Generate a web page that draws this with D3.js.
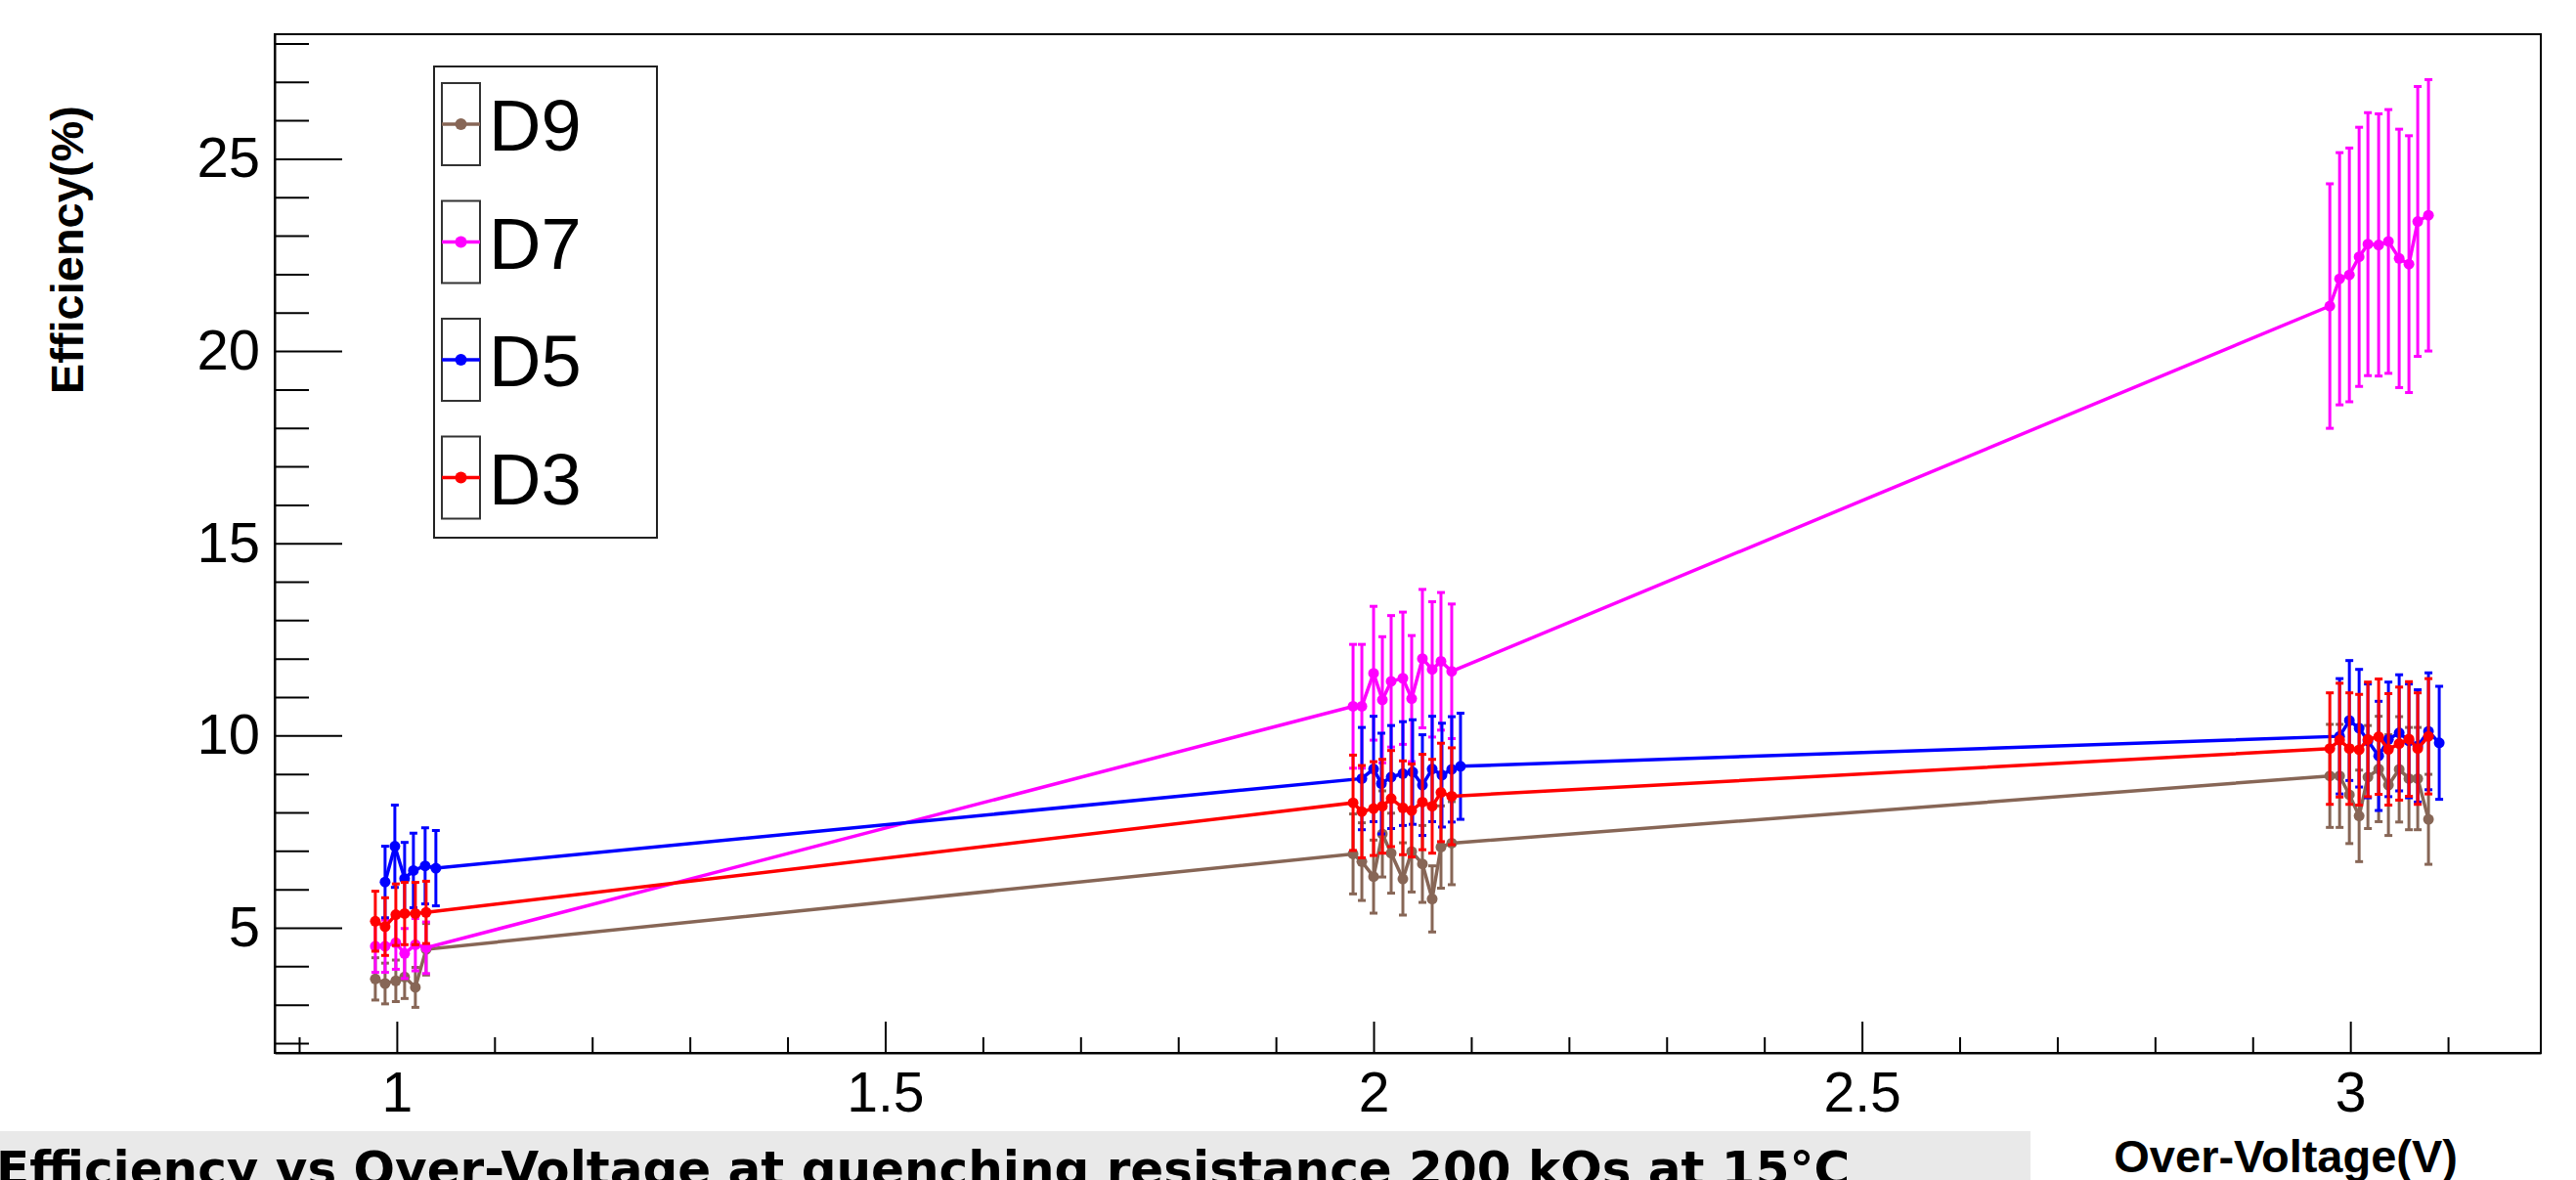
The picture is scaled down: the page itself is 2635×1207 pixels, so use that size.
<!DOCTYPE html>
<html>
<head>
<meta charset="utf-8">
<script src="https://cdn.jsdelivr.net/npm/d3@7"></script>
<style>
  body { margin: 0; background: #ffffff; }
  svg { display: block; }
</style>
</head>
<body>
<div id="chart"></div>
<script>
// Over-voltage (V) of each measurement; D3, D7 and D9 share one set, D5 is shifted one step
const voltsShared = [0.978, 0.988, 0.999, 1.008, 1.019, 1.030,
  1.979, 1.988, 2.000, 2.009, 2.018, 2.030, 2.039, 2.050, 2.060, 2.069, 2.080,
  2.979, 2.989, 2.999, 3.009, 3.018, 3.029, 3.039, 3.050, 3.060, 3.069, 3.080];
const voltsD5 = [0.988, 0.998, 1.008, 1.017, 1.029, 1.040,
  1.988, 2.000, 2.008, 2.018, 2.030, 2.040, 2.050, 2.060, 2.070, 2.080, 2.089,
  2.989, 2.999, 3.009, 3.018, 3.029, 3.039, 3.050, 3.060, 3.069, 3.080, 3.091];

// efficiency (%) and its error
const effD9 = [3.67, 3.55, 3.62, 3.72, 3.45, 4.44,
  6.92, 6.72, 6.33, 7.44, 6.94, 6.27, 6.98, 6.66, 5.75, 7.10, 7.20,
  8.95, 8.95, 8.46, 7.91, 8.92, 9.13, 8.71, 9.12, 8.88, 8.88, 7.82];
const errD9 = [0.55, 0.53, 0.54, 0.56, 0.52, 0.67,
  1.04, 1.01, 0.95, 1.12, 1.04, 0.94, 1.05, 1.00, 0.86, 1.07, 1.08,
  1.34, 1.34, 1.27, 1.19, 1.34, 1.37, 1.31, 1.37, 1.33, 1.33, 1.17];

const effD7 = [4.52, 4.52, 4.61, 4.33, 4.56, 4.48,
  10.76, 10.76, 11.62, 10.93, 11.41, 11.49, 10.96, 12.00, 11.72, 11.93, 11.67,
  21.17, 21.88, 21.98, 22.45, 22.78, 22.76, 22.85, 22.41, 22.26, 23.37, 23.53];
const errD7 = [0.68, 0.68, 0.69, 0.65, 0.68, 0.67,
  1.61, 1.61, 1.74, 1.64, 1.71, 1.72, 1.64, 1.80, 1.76, 1.79, 1.75,
  3.18, 3.28, 3.30, 3.37, 3.42, 3.41, 3.43, 3.36, 3.34, 3.51, 3.53];

const effD5 = [6.19, 7.12, 6.28, 6.49, 6.61, 6.55,
  8.88, 9.13, 8.75, 8.92, 9.01, 9.05, 8.71, 9.13, 8.97, 9.12, 9.20,
  9.98, 10.39, 10.19, 9.86, 9.47, 9.90, 10.07, 9.86, 9.73, 10.11, 9.81];
const errD5 = [0.93, 1.07, 0.94, 0.97, 0.99, 0.98,
  1.33, 1.37, 1.31, 1.34, 1.35, 1.36, 1.31, 1.37, 1.35, 1.37, 1.38,
  1.50, 1.56, 1.53, 1.48, 1.42, 1.49, 1.51, 1.48, 1.46, 1.52, 1.47];

const effD3 = [5.17, 5.03, 5.34, 5.37, 5.37, 5.40,
  8.25, 8.02, 8.10, 8.16, 8.36, 8.12, 8.05, 8.27, 8.16, 8.52, 8.42,
  9.66, 9.88, 9.66, 9.63, 9.90, 9.97, 9.64, 9.79, 9.91, 9.66, 9.98];
const errD3 = [0.78, 0.75, 0.80, 0.81, 0.81, 0.81,
  1.24, 1.20, 1.22, 1.22, 1.25, 1.22, 1.21, 1.24, 1.22, 1.28, 1.26,
  1.45, 1.48, 1.45, 1.44, 1.49, 1.50, 1.45, 1.47, 1.49, 1.45, 1.50];

const seriesNames = ["D9", "D7", "D5", "D3"];
const seriesColors = ["#876656", "#ff00ff", "#0000ff", "#ff0000"];

const xMajor = [1, 1.5, 2, 2.5, 3];
const xMinor = [0.9, 1.1, 1.2, 1.3, 1.4, 1.6, 1.7, 1.8, 1.9, 2.1, 2.2, 2.3, 2.4, 2.6, 2.7, 2.8, 2.9, 3.1];
const yMajor = [5, 10, 15, 20, 25];
const yMinor = [2, 3, 4, 6, 7, 8, 9, 11, 12, 13, 14, 16, 17, 18, 19, 21, 22, 23, 24, 26, 27, 28];

const titleText = "Efficiency vs Over-Voltage at quenching resistance 200 kΩs at 15°C";

const width = 2635;
const height = 1207;
const plotLeft = 281, plotRight = 2599, plotTop = 35, plotBottom = 1077;

const svg = d3.select("#chart")
  .append("svg")
  .attr("width", width)
  .attr("height", height);

svg.append("rect").attr("width", width).attr("height", height).attr("fill", "#ffffff");

const x = d3.scaleLinear().domain([0.875, 3.195]).range([plotLeft, plotRight]);
const y = d3.scaleLinear().domain([1.745, 28.24]).range([plotBottom, plotTop]);

const tickFont = "'Liberation Sans', Arial, Helvetica, sans-serif";

// axes, ticks point inward like in ROOT
const yAxis = svg.append("g")
  .attr("transform", `translate(${plotLeft},0)`)
  .call(d3.axisLeft(y).tickValues(yMajor).tickSize(-69).tickSizeOuter(0).tickPadding(15)
    .tickFormat(d3.format("d")));
svg.append("g")
  .attr("transform", `translate(${plotLeft},0)`)
  .call(d3.axisLeft(y).tickValues(yMinor).tickSize(-35).tickFormat(""))
  .call(g => g.select(".domain").remove());

const xAxis = svg.append("g")
  .attr("transform", `translate(0,${plotBottom})`)
  .call(d3.axisBottom(x).tickValues(xMajor).tickSize(-32).tickSizeOuter(0).tickPadding(20)
    .tickFormat(d => d3.format("")(d)));
svg.append("g")
  .attr("transform", `translate(0,${plotBottom})`)
  .call(d3.axisBottom(x).tickValues(xMinor).tickSize(-16).tickFormat(""))
  .call(g => g.select(".domain").remove());

svg.selectAll(".tick line").attr("stroke", "#000").attr("stroke-width", 2);
svg.selectAll(".domain").attr("stroke", "#000").attr("stroke-width", 2);
yAxis.selectAll("text").attr("font-family", tickFont).attr("font-size", 58).attr("fill", "#000");
xAxis.selectAll("text").attr("font-family", tickFont).attr("font-size", 57).attr("fill", "#000");

// frame
svg.append("rect")
  .attr("x", plotLeft).attr("y", plotTop)
  .attr("width", plotRight - plotLeft).attr("height", plotBottom - plotTop)
  .attr("fill", "none").attr("stroke", "#000").attr("stroke-width", 2);

// axis titles
svg.append("text")
  .attr("transform", `translate(85,108) rotate(-90)`)
  .attr("text-anchor", "end")
  .attr("font-family", tickFont).attr("font-weight", "bold").attr("font-size", 47)
  .text("Efficiency(%)");

svg.append("text")
  .attr("x", 2514).attr("y", 1199)
  .attr("text-anchor", "end")
  .attr("font-family", tickFont).attr("font-weight", "bold").attr("font-size", 47)
  .text("Over-Voltage(V)");

// graphs
const allSeries = [
  { name: seriesNames[0], color: seriesColors[0], xs: voltsShared, ys: effD9, es: errD9 },
  { name: seriesNames[1], color: seriesColors[1], xs: voltsShared, ys: effD7, es: errD7 },
  { name: seriesNames[2], color: seriesColors[2], xs: voltsD5, ys: effD5, es: errD5 },
  { name: seriesNames[3], color: seriesColors[3], xs: voltsShared, ys: effD3, es: errD3 }
];

const line = d3.line().x(d => x(d.v)).y(d => y(d.eff));
const capHalf = 4;

allSeries.forEach(s => {
  const pts = s.xs.map((v, i) => ({ v: v, eff: s.ys[i], err: s.es[i] }));
  const g = svg.append("g").attr("class", "graph-" + s.name);

  const bars = g.selectAll(".err")
    .data(pts)
    .enter().append("g")
    .attr("class", "err");
  bars.append("line")
    .attr("x1", d => x(d.v)).attr("x2", d => x(d.v))
    .attr("y1", d => y(d.eff - d.err)).attr("y2", d => y(d.eff + d.err))
    .attr("stroke", s.color).attr("stroke-width", 3);
  bars.append("line")
    .attr("x1", d => x(d.v) - capHalf).attr("x2", d => x(d.v) + capHalf)
    .attr("y1", d => y(d.eff + d.err)).attr("y2", d => y(d.eff + d.err))
    .attr("stroke", s.color).attr("stroke-width", 3);
  bars.append("line")
    .attr("x1", d => x(d.v) - capHalf).attr("x2", d => x(d.v) + capHalf)
    .attr("y1", d => y(d.eff - d.err)).attr("y2", d => y(d.eff - d.err))
    .attr("stroke", s.color).attr("stroke-width", 3);

  g.append("path")
    .datum(pts)
    .attr("d", line)
    .attr("fill", "none")
    .attr("stroke", s.color)
    .attr("stroke-width", 3.5);

  g.selectAll("circle")
    .data(pts)
    .enter().append("circle")
    .attr("cx", d => x(d.v))
    .attr("cy", d => y(d.eff))
    .attr("r", 5.5)
    .attr("fill", s.color);
});

// legend
const legend = svg.append("g");
legend.append("rect")
  .attr("x", 444).attr("y", 68).attr("width", 228).attr("height", 482)
  .attr("fill", "#fff").attr("stroke", "#222").attr("stroke-width", 2);

const entries = legend.selectAll(".entry")
  .data(allSeries)
  .enter().append("g")
  .attr("class", "entry")
  .attr("transform", (d, i) => `translate(0,${127 + i * 120.5})`);
entries.append("rect")
  .attr("x", 452).attr("y", -42).attr("width", 39).attr("height", 84)
  .attr("fill", "none").attr("stroke", "#333").attr("stroke-width", 2);
entries.append("line")
  .attr("x1", 452).attr("x2", 491).attr("y1", 0).attr("y2", 0)
  .attr("stroke", d => d.color).attr("stroke-width", 3.5);
entries.append("circle")
  .attr("cx", 471.5).attr("cy", 0).attr("r", 6)
  .attr("fill", d => d.color);
entries.append("text")
  .attr("x", 500).attr("y", 27)
  .attr("font-family", tickFont).attr("font-size", 74)
  .text(d => d.name);

// title pave at the bottom, cut by the canvas edge
svg.append("rect")
  .attr("x", 0).attr("y", 1157).attr("width", 2077).attr("height", 50)
  .attr("fill", "#e9e9e9");
svg.append("text")
  .attr("x", -4).attr("y", 1213)
  .attr("font-family", "'DejaVu Sans', Verdana, sans-serif")
  .attr("font-weight", "bold").attr("font-size", 50)
  .text(titleText);
</script>
</body>
</html>
